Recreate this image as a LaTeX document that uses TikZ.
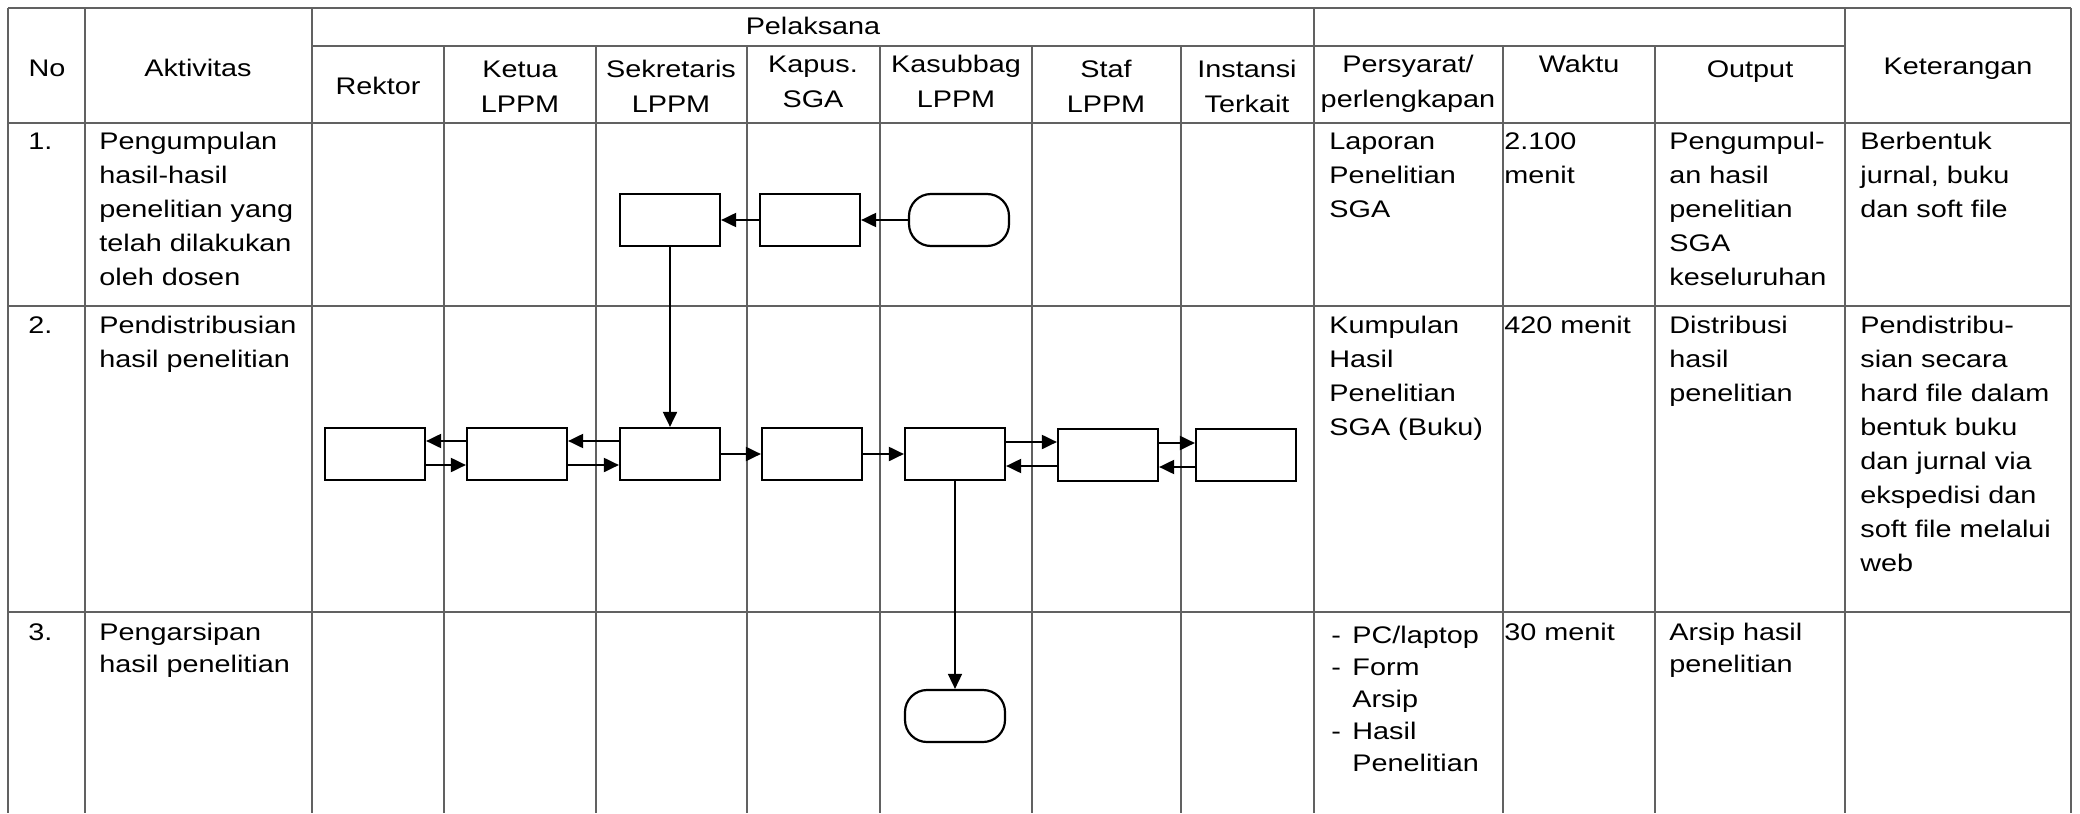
\documentclass[tikz,border=0pt]{standalone}
\usepackage{fontspec}
\setmainfont{Liberation Sans}[FakeStretch=1.2]
\usetikzlibrary{arrows.meta}

\newcommand{\listdash}{\makebox[10.5pt][l]{-}}
\newcommand{\celll}[1]{\begin{tabular}[t]{@{}l@{}}#1\end{tabular}}
\newcommand{\cellc}[1]{\begin{tabular}[t]{@{}c@{}}#1\end{tabular}}

\tikzset{
  gridline/.style={draw=black!62, line width=0.8pt},
  hd/.style={anchor=base, inner sep=0pt, font=\fontsize{12}{17.5}\selectfont},
  txt/.style={anchor=base west, inner sep=0pt, font=\fontsize{12}{17}\selectfont},
  txtlast/.style={txt, font=\fontsize{12}{16}\selectfont},
  actbox/.style={draw, fill=white, line width=1.1pt, minimum width=50pt, minimum height=26pt, inner sep=0pt},
  endbox/.style={actbox, rounded corners=11pt},
  flow/.style={line width=1pt, -{Triangle[length=7.5pt,width=7pt]}},
}

\begin{document}
\begin{tikzpicture}[x=0.5pt,y=0.5pt,yscale=-1,xscale=1]
\useasboundingbox (0,0) rectangle (2080,813);

%Table: horizontal lines
\draw[gridline] (8,8) -- (2071,8);
\draw[gridline] (312,46) -- (1845,46);
\foreach \y in {123,306,612} \draw[gridline] (8,\y) -- (2071,\y);
%Table: vertical lines
\foreach \x in {8,85,312,1314,1845,2071} \draw[gridline] (\x,8) -- (\x,813);
\foreach \x in {444,596,747,880,1032,1181,1503,1655} \draw[gridline] (\x,46) -- (\x,813);

%Header
\node[hd] (hNo) at (47,76) {No};
\node[hd] (hAkt) at (198,76) {Aktivitas};
\node[hd] (hPel) at (813,35) {Pelaksana};
\node[hd] (hRek) at (378,95) {Rektor};
\node[hd] (hKet) at (520,77) {\cellc{Ketua\\LPPM}};
\node[hd] (hSek) at (671,77) {\cellc{Sekretaris\\LPPM}};
\node[hd] (hKap) at (813,73) {\cellc{Kapus.\\SGA}};
\node[hd] (hKas) at (956,73) {\cellc{Kasubbag\\LPPM}};
\node[hd] (hSta) at (1106,77) {\cellc{Staf\\LPPM}};
\node[hd] (hIns) at (1247,77) {\cellc{Instansi\\Terkait}};
\node[hd] (hPer) at (1408,73) {\cellc{Persyarat/\\perlengkapan}};
\node[hd] (hWak) at (1579,73) {Waktu};
\node[hd] (hOut) at (1750,78) {Output};
\node[hd] (hKtr) at (1958,75) {Keterangan};

%Row 1
\node[txt] (no1) at (28,149) {1.};
\node[txt] (akt1) at (99,149) {\celll{Pengumpulan\\hasil-hasil\\penelitian yang\\telah dilakukan\\oleh dosen}};
\node[txt] (per1) at (1329,149) {\celll{Laporan\\Penelitian\\SGA}};
\node[txt] (wak1) at (1504,149) {\celll{2.100\\menit}};
\node[txt] (out1) at (1669,149) {\celll{Pengumpul-\\an hasil\\penelitian\\SGA\\keseluruhan}};
\node[txt] (ktr1) at (1860,149) {\celll{Berbentuk\\jurnal, buku\\dan soft file}};

%Row 2
\node[txt] (no2) at (28,333) {2.};
\node[txt] (akt2) at (99,333) {\celll{Pendistribusian\\hasil penelitian}};
\node[txt] (per2) at (1329,333) {\celll{Kumpulan\\Hasil\\Penelitian\\SGA (Buku)}};
\node[txt] (wak2) at (1504,333) {420 menit};
\node[txt] (out2) at (1669,333) {\celll{Distribusi\\hasil\\penelitian}};
\node[txt] (ktr2) at (1860,333) {\celll{Pendistribu-\\sian secara\\hard file dalam\\bentuk buku\\dan jurnal via\\ekspedisi dan\\soft file melalui\\web}};

%Row 3
\node[txtlast] (no3) at (28,640) {3.};
\node[txtlast] (akt3) at (99,640) {\celll{Pengarsipan\\hasil penelitian}};
\node[txtlast] (per3) at (1331,643) {\celll{\listdash PC/laptop\\\listdash Form\\\hspace*{10.5pt}Arsip\\\listdash Hasil\\\hspace*{10.5pt}Penelitian}};
\node[txtlast] (wak3) at (1504,640) {30 menit};
\node[txtlast] (out3) at (1669,640) {\celll{Arsip hasil\\penelitian}};

%Flow: row 1
\node[actbox] (sek1) at (670,220) {};
\node[actbox] (kap1) at (810,220) {};
\node[endbox] (mulai) at (959,220) {};
%Flow: row 2
\node[actbox] (rek2) at (375,454) {};
\node[actbox] (ket2) at (517,454) {};
\node[actbox] (sek2) at (670,454) {};
\node[actbox] (kap2) at (812,454) {};
\node[actbox] (kas2) at (955,454) {};
\node[actbox] (sta2) at (1108,455) {};
\node[actbox] (ins2) at (1246,455) {};
%Flow: row 3
\node[endbox] (selesai) at (955,716) {};

%Connectors
\draw[flow] (mulai) -- (kap1);
\draw[flow] (kap1) -- (sek1);
\draw[flow] (sek1) -- (sek2);
\draw[flow] ([yshift=-6.5pt]ket2.west) -- ([yshift=-6.5pt]rek2.east);
\draw[flow] ([yshift=5.5pt]rek2.east) -- ([yshift=5.5pt]ket2.west);
\draw[flow] ([yshift=-6.5pt]sek2.west) -- ([yshift=-6.5pt]ket2.east);
\draw[flow] ([yshift=5.5pt]ket2.east) -- ([yshift=5.5pt]sek2.west);
\draw[flow] (sek2) -- (kap2);
\draw[flow] (kap2) -- (kas2);
\draw[flow] ([yshift=-6pt]kas2.east) -- ([yshift=-6pt]kas2.east -| sta2.west);
\draw[flow] ([yshift=6pt]kas2.east -| sta2.west) -- ([yshift=6pt]kas2.east);
\draw[flow] ([yshift=-6pt]sta2.east) -- ([yshift=-6pt]ins2.west);
\draw[flow] ([yshift=6pt]ins2.west) -- ([yshift=6pt]sta2.east);
\draw[flow, line width=0.8pt] (kas2) -- (selesai);
\end{tikzpicture}
\end{document}
